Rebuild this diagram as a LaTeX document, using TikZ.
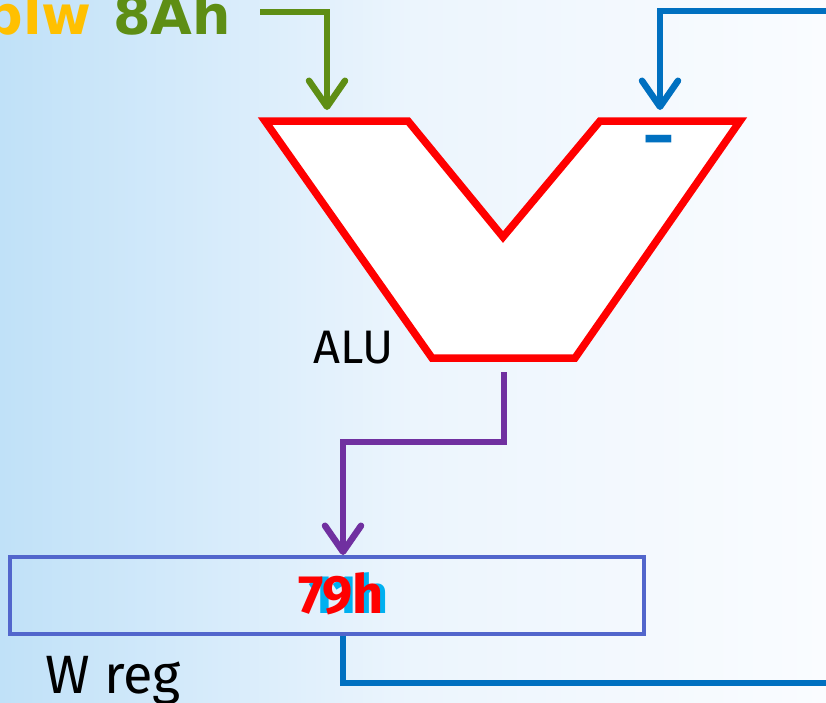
\documentclass[tikz,border=0pt]{standalone}
\usepackage{fontspec}
\setmainfont{Fira Sans}
\newfontfamily\widefont{DejaVu Sans}
\usetikzlibrary{arrows.meta}

\definecolor{aluRed}{RGB}{255,0,0}
\definecolor{srcGreen}{RGB}{94,142,20}
\definecolor{opYellow}{RGB}{255,192,0}
\definecolor{fbBlue}{RGB}{0,112,192}
\definecolor{outPurple}{RGB}{112,48,160}
\definecolor{regBlue}{RGB}{82,102,204}
\definecolor{ghostCyan}{RGB}{0,176,240}
\definecolor{bgLeft}{RGB}{192,225,248}
\definecolor{bgMid}{RGB}{236,245,253}
\definecolor{bgRight}{RGB}{250,252,255}

\begin{document}
\begin{tikzpicture}[x=1pt,y=-1pt,
    wire/.style={line width=6.5pt},
    tip/.style={-{Straight Barb[length=26pt,width=36pt,round]}},
    lbl/.style={inner sep=0pt}]
	\useasboundingbox (0,0) rectangle (826,702);
	\shade[left color=bgLeft, right color=bgMid] (0,0) rectangle (414,702);
	\shade[left color=bgMid, right color=bgRight] (413,0) rectangle (826,702);

	% ALU body
	\filldraw[fill=white, draw=aluRed, line width=7.5pt] (265,121) -- (408,121) -- (503,237) -- (600,121) -- (740,121) -- (575,358) -- (432,358) -- cycle;
	\coordinate (inA) at (327,110);
	\coordinate (inB) at (660,110);
	\coordinate (aluout) at (504,372);
	\node[lbl, anchor=base west] (alulbl) at (313,363) {\fontsize{47}{50}\selectfont ALU};
	\node[lbl, text=fbBlue, xscale=1.3, transform shape] (minus) at (659,147) {\fontsize{62}{60}\selectfont\bfseries -};

	% operand
	\node[lbl, anchor=base east, text=opYellow] (op) at (92,34) {\fontsize{54}{56}\selectfont\widefont\bfseries blw};
	\node[lbl, anchor=base west, text=srcGreen] (src) at (113,34) {\fontsize{54}{56}\selectfont\widefont\bfseries 8Ah};
	\coordinate (srcout) at (260,12);
	\draw[wire, tip, color=srcGreen] (srcout) -| (inA);

	% W register
	\node[draw=regBlue, line width=3.5pt, minimum width=634pt, minimum height=77pt, inner sep=0pt] (wreg) at (327,595.5) {};
	\node[lbl, text=ghostCyan] (old) at (349,593) {\fontsize{54}{56}\selectfont\bfseries 11h};
	\node[lbl, text=aluRed] (val) at (341,594) {\fontsize{54}{56}\selectfont\bfseries 79h};
	\node[lbl, anchor=base west] (wlbl) at (45,693) {\fontsize{54}{56}\selectfont W reg};
	\coordinate (wregin) at (343,555);
	\draw[wire, tip, color=outPurple] (aluout) -- ++(0,70) -| (wregin);

	% feedback
	\coordinate (fbin) at (830,11);
	\coordinate (fbout) at (830,683);
	\draw[wire, tip, color=fbBlue] (fbin) -| (inB);
	\draw[wire, color=fbBlue] (wreg.south -| wregin) |- (fbout);
\end{tikzpicture}
\end{document}
